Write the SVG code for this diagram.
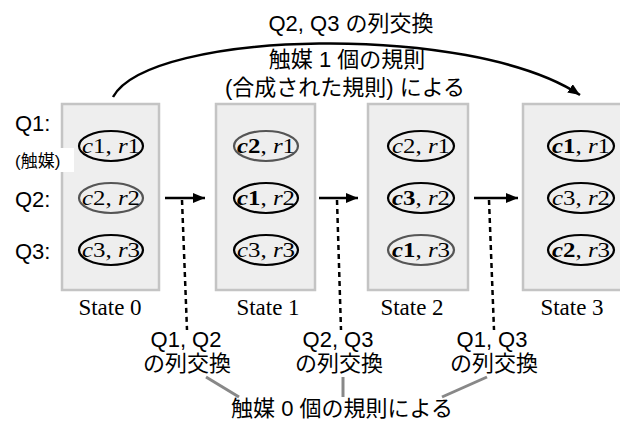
<svg xmlns="http://www.w3.org/2000/svg" width="620" height="421" viewBox="0 0 620 421">
<defs>
<marker id="ah" viewBox="0 0 12 10" refX="12" refY="5" markerWidth="12" markerHeight="10" markerUnits="userSpaceOnUse" orient="auto">
<path d="M0,0 L12,5 L0,10 z" fill="#000"/>
</marker>
<style>
.box{fill:#eeeeee;stroke:#c4c4c4;stroke-width:2.5}
.el{fill:none;stroke:#000;stroke-width:2.2}
.eg{fill:none;stroke:#555;stroke-width:2.2}
.et{font-family:"Liberation Serif",serif;font-size:22px;text-anchor:middle;fill:#000}
.i{font-style:italic}
.b{font-weight:bold}
.bi{font-weight:bold;font-style:italic}
.st{font-family:"Liberation Serif",serif;font-size:23px;text-anchor:middle;fill:#000}
.sans{font-family:"Liberation Sans","Noto Sans CJK JP",sans-serif;font-size:22px;fill:#000}
.mid{text-anchor:middle}
.arr{stroke:#000;stroke-width:2.5;fill:none}
.dot{stroke:#000;stroke-width:2.5;stroke-dasharray:5,4;fill:none}
.gl{stroke:#888;stroke-width:3;fill:none}
</style>
</defs>

<g id="state0">
<rect class="box" x="62" y="104" width="97" height="186"/>
<ellipse class="el" cx="111" cy="146" rx="32" ry="15"/>
<ellipse class="eg" cx="111" cy="198" rx="32" ry="15"/>
<ellipse class="el" cx="111" cy="250" rx="32" ry="15"/>
<text class="et" x="111" y="153" textLength="58" lengthAdjust="spacingAndGlyphs"><tspan class="i">c</tspan>1, <tspan class="i">r</tspan>1</text>
<text class="et" x="111" y="205" textLength="58" lengthAdjust="spacingAndGlyphs"><tspan class="i">c</tspan>2, <tspan class="i">r</tspan>2</text>
<text class="et" x="111" y="257" textLength="58" lengthAdjust="spacingAndGlyphs"><tspan class="i">c</tspan>3, <tspan class="i">r</tspan>3</text>
<text class="st" x="110" y="315">State 0</text>
</g>

<g id="state1">
<rect class="box" x="216" y="104" width="99" height="186"/>
<ellipse class="eg" cx="266" cy="146" rx="32" ry="15"/>
<ellipse class="el" cx="266" cy="198" rx="32" ry="15"/>
<ellipse class="el" cx="266" cy="250" rx="32" ry="15"/>
<text class="et" x="266" y="153" textLength="58" lengthAdjust="spacingAndGlyphs"><tspan class="bi">c</tspan><tspan class="b">2</tspan>, <tspan class="i">r</tspan>1</text>
<text class="et" x="266" y="205" textLength="58" lengthAdjust="spacingAndGlyphs"><tspan class="bi">c</tspan><tspan class="b">1</tspan>, <tspan class="i">r</tspan>2</text>
<text class="et" x="266" y="257" textLength="58" lengthAdjust="spacingAndGlyphs"><tspan class="i">c</tspan>3, <tspan class="i">r</tspan>3</text>
<text class="st" x="268" y="315">State 1</text>
</g>

<g id="state2">
<rect class="box" x="368" y="104" width="100" height="186"/>
<ellipse class="el" cx="421" cy="146" rx="33" ry="15"/>
<ellipse class="el" cx="421" cy="198" rx="33" ry="15"/>
<ellipse class="eg" cx="421" cy="250" rx="33" ry="15"/>
<text class="et" x="421" y="153" textLength="58" lengthAdjust="spacingAndGlyphs"><tspan class="i">c</tspan>2, <tspan class="i">r</tspan>1</text>
<text class="et" x="421" y="205" textLength="58" lengthAdjust="spacingAndGlyphs"><tspan class="bi">c</tspan><tspan class="b">3</tspan>, <tspan class="i">r</tspan>2</text>
<text class="et" x="421" y="257" textLength="58" lengthAdjust="spacingAndGlyphs"><tspan class="bi">c</tspan><tspan class="b">1</tspan>, <tspan class="i">r</tspan>3</text>
<text class="st" x="412" y="315">State 2</text>
</g>

<g id="state3">
<rect class="box" x="523" y="104" width="110" height="186"/>
<ellipse class="el" cx="581" cy="146" rx="33" ry="15"/>
<ellipse class="el" cx="581" cy="198" rx="33" ry="15"/>
<ellipse class="el" cx="581" cy="250" rx="33" ry="15"/>
<text class="et" x="581" y="153" textLength="58" lengthAdjust="spacingAndGlyphs"><tspan class="bi">c</tspan><tspan class="b">1</tspan>, <tspan class="i">r</tspan>1</text>
<text class="et" x="581" y="205" textLength="58" lengthAdjust="spacingAndGlyphs"><tspan class="i">c</tspan>3, <tspan class="i">r</tspan>2</text>
<text class="et" x="581" y="257" textLength="58" lengthAdjust="spacingAndGlyphs"><tspan class="bi">c</tspan><tspan class="b">2</tspan>, <tspan class="i">r</tspan>3</text>
<text class="st" x="572" y="315">State 3</text>
</g>

<g id="qlabels">
<text class="sans" x="15" y="131">Q1:</text>
<rect x="12" y="148" width="62" height="24" fill="#fff"/>
<text class="sans" x="15" y="167" style="font-size:17px">(触媒)</text>
<text class="sans" x="15" y="207">Q2:</text>
<text class="sans" x="15" y="259">Q3:</text>
</g>

<g id="connectors">
<path class="arr" d="M113,97 C150,30 470,22 580,95" marker-end="url(#ah)"/>
<line class="arr" x1="165" y1="198" x2="205" y2="198" marker-end="url(#ah)"/>
<line class="arr" x1="319" y1="198" x2="358" y2="198" marker-end="url(#ah)"/>
<line class="arr" x1="474" y1="198" x2="518" y2="198" marker-end="url(#ah)"/>
<line class="dot" x1="182" y1="200" x2="187" y2="330"/>
<line class="dot" x1="337" y1="200" x2="341" y2="330"/>
<line class="dot" x1="489" y1="200" x2="494" y2="330"/>
<line class="gl" x1="206" y1="377" x2="239" y2="397"/>
<line class="gl" x1="343" y1="377" x2="343" y2="397"/>
<line class="gl" x1="487" y1="377" x2="442" y2="397"/>
</g>

<g id="toplabel">
<text class="sans mid" x="351" y="31">Q2, Q3 の列交換</text>
<text class="sans mid" x="347" y="67">触媒 1 個の規則</text>
<text class="sans mid" x="345" y="95">(合成された規則) による</text>
</g>

<g id="bottomlabels">
<text class="sans mid" x="186" y="347">Q1, Q2</text>
<text class="sans mid" x="187" y="371">の列交換</text>
<text class="sans mid" x="338" y="347">Q2, Q3</text>
<text class="sans mid" x="339" y="371">の列交換</text>
<text class="sans mid" x="492" y="347">Q1, Q3</text>
<text class="sans mid" x="494" y="371">の列交換</text>
<text class="sans mid" x="342" y="416">触媒 0 個の規則による</text>
</g>
</svg>
